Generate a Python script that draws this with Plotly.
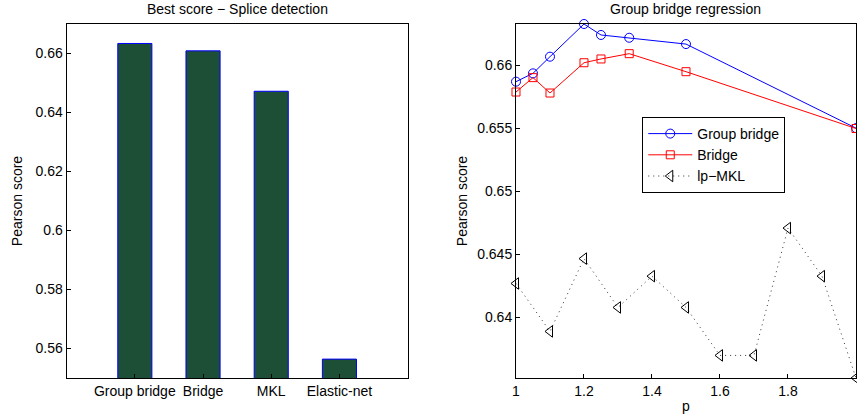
import plotly.graph_objects as go

# ---- Data ----
methods = ["Group bridge", "Bridge", "MKL", "Elastic-net"]
best_scores = [0.6634, 0.6609, 0.6472, 0.5564]

p_bridge = [1.0, 1.05, 1.1, 1.2, 1.25, 1.333, 1.5, 2.0]
group_bridge = [0.65868, 0.65934, 0.66066, 0.66325, 0.66238, 0.66216, 0.66166, 0.65500]
bridge = [0.65786, 0.65900, 0.65778, 0.66018, 0.66048, 0.66090, 0.65947, 0.65497]

p_mkl = [1.0, 1.1, 1.2, 1.3, 1.4, 1.5, 1.6, 1.7, 1.8, 1.9, 2.0]
lp_mkl = [0.64269, 0.63889, 0.64466, 0.64079, 0.64327, 0.64079, 0.63699, 0.63699, 0.64708, 0.64327, 0.63520]

left_yticks = [0.56, 0.58, 0.60, 0.62, 0.64, 0.66]
left_yticktext = ["0.56", "0.58", "0.6", "0.62", "0.64", "0.66"]
right_xticks = [1, 1.2, 1.4, 1.6, 1.8, 2]
right_xticktext = ["1", "1.2", "1.4", "1.6", "1.8", "2"]
right_yticks = [0.64, 0.645, 0.65, 0.655, 0.66]
right_yticktext = ["0.64", "0.645", "0.65", "0.655", "0.66"]

W, H = 857, 418
FONT = "Liberation Sans, Arial, Helvetica, sans-serif"
FS = 14

fig = go.Figure()

fig.add_trace(go.Bar(
    x=[1, 2, 3, 4], y=best_scores, width=0.5,
    marker=dict(color="#1d4f36", line=dict(color="#0000ff", width=1)),
    xaxis="x", yaxis="y", showlegend=False,
))

fig.add_trace(go.Scatter(
    x=p_bridge, y=group_bridge, name="Group bridge", mode="lines+markers",
    line=dict(color="#0000ff", width=1),
    marker=dict(symbol="circle-open", size=9, color="#0000ff", line=dict(width=1)),
    xaxis="x2", yaxis="y2", cliponaxis=False,
))
fig.add_trace(go.Scatter(
    x=p_bridge, y=bridge, name="Bridge", mode="lines+markers",
    line=dict(color="#ff0000", width=1),
    marker=dict(symbol="square-open", size=8, color="#ff0000", line=dict(width=1)),
    xaxis="x2", yaxis="y2", cliponaxis=False,
))
fig.add_trace(go.Scatter(
    x=p_mkl, y=lp_mkl, name="lp\u2212MKL", mode="lines+markers",
    line=dict(color="#333333", width=1, dash="1px,4px"),
    marker=dict(symbol="triangle-left-open", size=10, color="#000000", line=dict(width=1)),
    xaxis="x2", yaxis="y2", cliponaxis=False,
))

ydom = [40 / H, 394 / H]
axis_common = dict(showline=True, linecolor="black", linewidth=1, mirror=True,
                   ticks="inside", ticklen=4, tickcolor="black", showgrid=False,
                   zeroline=False, tickfont=dict(size=FS, color="black"))

fig.update_layout(
    width=W, height=H,
    margin=dict(l=0, r=0, t=0, b=0),
    paper_bgcolor="white", plot_bgcolor="white",
    font=dict(family=FONT, size=FS, color="black"),
    xaxis=dict(domain=[63 / W, 406 / W], range=[0, 5], tickvals=[1, 2, 3, 4],
               ticktext=methods, anchor="y", **axis_common),
    yaxis=dict(domain=ydom, range=[0.55, 0.67], tickvals=left_yticks,
               ticktext=left_yticktext, anchor="x",
               title=dict(text="Pearson score", font=dict(size=FS), standoff=9),
               **axis_common),
    xaxis2=dict(domain=[515 / W, 1.0], range=[1, 2], tickvals=right_xticks,
                ticktext=right_xticktext, anchor="y2",
                title=dict(text="p", font=dict(size=FS), standoff=3),
                **axis_common),
    yaxis2=dict(domain=ydom, range=[0.6352, 0.66325], tickvals=right_yticks,
                ticktext=right_yticktext, anchor="x2",
                title=dict(text="Pearson score", font=dict(size=FS), standoff=6),
                **axis_common),
    legend=dict(x=642 / W, y=1 - 117 / H, xanchor="left", yanchor="top",
                bgcolor="white", bordercolor="black", borderwidth=1,
                font=dict(size=FS), tracegroupgap=0, itemwidth=44),
    showlegend=True,
    annotations=[
        dict(text="Best score \u2212 Splice detection", x=(63 + 406) / 2 / W, y=1 - 9 / H,
             xref="paper", yref="paper", showarrow=False, xanchor="center", yanchor="middle",
             font=dict(size=FS)),
        dict(text="Group bridge regression", x=(515 + 857) / 2 / W, y=1 - 9 / H,
             xref="paper", yref="paper", showarrow=False, xanchor="center", yanchor="middle",
             font=dict(size=FS)),
    ],
)

fig.write_html("out.html")
